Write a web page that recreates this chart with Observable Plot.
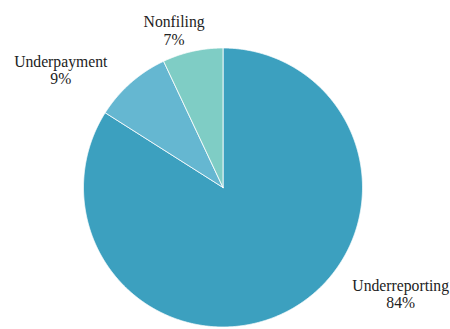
<!DOCTYPE html>
<html>
<head>
<meta charset="utf-8">
<script src="https://cdn.jsdelivr.net/npm/d3@7"></script>
<script src="https://cdn.jsdelivr.net/npm/@observablehq/plot@0.6"></script>
<style>
  html, body { margin: 0; padding: 0; background: #fff; }
</style>
</head>
<body>
<div id="chart"></div>
<script>
const categories = ["Underreporting", "Underpayment", "Nonfiling"];
const shares = [84, 9, 7];
const labels = ["Underreporting\n84%", "Underpayment\n9%", "Nonfiling\n7%"];
const colors = ["#3ca0bf", "#65b7d1", "#7fcdc5"];

const data = categories.map((c, i) => ({ key: c, value: shares[i], label: labels[i] }));
const arcs = d3.pie().sort(null).value(d => d.value)(data);

// slice outlines in unit coordinates (angle clockwise from 12 o'clock)
const pts = [];
for (const a of arcs) {
  const key = a.data.key;
  pts.push({ key, x: 0, y: 0 });
  const n = Math.max(8, Math.ceil((a.endAngle - a.startAngle) / 0.005));
  for (let k = 0; k <= n; k++) {
    const t = a.startAngle + (a.endAngle - a.startAngle) * k / n;
    pts.push({ key, x: Math.sin(t), y: -Math.cos(t) });
  }
  pts.push({ key, x: 0, y: 0 });
}

// label anchors at slice rim midpoints, shifted by layout offsets (px)
const offsets = { "Underreporting": [110.5, -16], "Underpayment": [-70, -13], "Nonfiling": [-18.5, -21] };
const anchors = arcs.map(a => {
  const m = (a.startAngle + a.endAngle) / 2;
  return { key: a.data.key, label: a.data.label, x: Math.sin(m), y: -Math.cos(m) };
});

const plot = Plot.plot({
  width: 450,
  height: 329,
  margin: 0,
  x: { domain: [-1, 1], range: [83, 362], axis: null },
  y: { domain: [-1, 1], range: [47.5, 326.5], axis: null },
  color: { domain: categories, range: colors },
  style: { background: "#fff" },
  marks: [
    Plot.line(pts, { x: "x", y: "y", z: "key", fill: "key", stroke: "#fff", strokeWidth: 0.8, strokeLinejoin: "round", curve: "linear" }),
    ...anchors.map(d => Plot.text([d], {
      x: "x", y: "y", text: "label",
      dx: offsets[d.key][0], dy: offsets[d.key][1],
      textAnchor: "middle", lineAnchor: "middle", lineHeight: 1.1,
      fontSize: 15.7, fill: "#222", fontFamily: "Liberation Serif"
    }))
  ]
});
document.getElementById("chart").appendChild(plot);
</script>
</body>
</html>
